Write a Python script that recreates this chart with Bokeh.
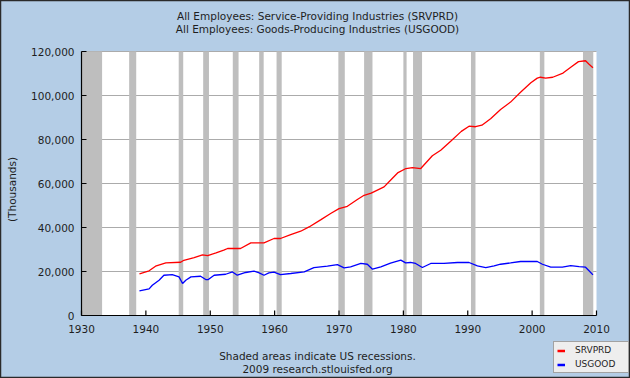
import math
from bokeh.plotting import figure
from bokeh.models import Label, Legend, LegendItem, Range1d
from bokeh.core.properties import value
from bokeh.embed import file_html
from bokeh.resources import INLINE

# ---- data ----
title_lines = ["All Employees: Service-Providing Industries (SRVPRD)",
               "All Employees: Goods-Producing Industries (USGOOD)"]
footer_lines = ["Shaded areas indicate US recessions.",
                "2009 research.stlouisfed.org"]
y_label = "(Thousands)"
series_names = ["SRVPRD", "USGOOD"]

rec_start = [1929.6, 1937.4, 1945.1, 1948.9, 1953.5, 1957.6, 1960.3, 1969.9,
             1973.9, 1980.0, 1981.5, 1990.5, 2001.2, 2007.9]
rec_end = [1933.2, 1938.5, 1945.8, 1949.8, 1954.4, 1958.3, 1961.1, 1970.9,
           1975.2, 1980.5, 1982.9, 1991.2, 2001.9, 2009.5]

srv_years = [1939.0, 1940.5, 1941.5, 1943.1, 1945.4, 1945.9, 1947.5, 1948.8, 1949.6,
             1950.9, 1952.1, 1952.7, 1954.7, 1956.3, 1957.8, 1958.35, 1959.9, 1960.9,
             1962.5, 1964.05, 1965.35, 1967.2, 1968.7, 1970.0, 1971.3, 1972.85, 1973.9,
             1975.0, 1977.0, 1978.0, 1979.1, 1980.4, 1981.4, 1982.7, 1984.5, 1985.8,
             1987.35, 1989.0, 1990.2, 1991.2, 1992.2, 1993.55, 1995.1, 1996.65, 1998.2,
             1999.8, 2000.8, 2001.3, 2002.1, 2003.2, 2004.8, 2006.0, 2007.2, 2008.3,
             2008.8, 2009.45]
srv_values = [18900, 20300, 22400, 23900, 24200, 25100, 26350, 27550, 27250,
              28450, 29700, 30450, 30450, 33000, 33050, 33000, 35000, 35000,
              36800, 38300, 40250, 43600, 46350, 48600, 49650, 52700, 54650,
              55600, 58450, 61500, 64800, 66800, 67250, 66800, 72600, 75100,
              79200, 83700, 86050, 85800, 86500, 89450, 93650, 97000, 101500,
              105800, 107900, 108300, 107850, 108300, 110200, 112850, 115400, 115800,
              114350, 112600]

good_years = [1939.0, 1940.5, 1941.0, 1942.05, 1942.8, 1944.1, 1945.15, 1945.7, 1946.2,
              1947.0, 1948.5, 1949.3, 1949.7, 1950.6, 1952.4, 1953.45, 1954.2, 1955.5,
              1956.8, 1957.6, 1958.35, 1959.1, 1959.9, 1960.9, 1962.5, 1964.6, 1966.1,
              1968.2, 1969.75, 1970.8, 1971.8, 1973.4, 1974.4, 1975.2, 1976.5, 1978.0,
              1979.6, 1980.35, 1981.1, 1981.9, 1982.95, 1984.25, 1986.3, 1988.4, 1990.2,
              1991.5, 1992.8, 1994.1, 1995.1, 1996.65, 1998.2, 2000.8, 2001.6, 2002.9,
              2004.7, 2006.0, 2007.3, 2008.3, 2008.8, 2009.45]
good_values = [11180, 12100, 13750, 16050, 18300, 18600, 17550, 14550, 16050,
               17550, 17850, 16350, 16350, 18300, 18750, 19800, 18300, 19550,
               20150, 19350, 18300, 19350, 19700, 18600, 19100, 19800, 21800,
               22400, 23150, 21650, 22100, 23650, 23300, 21050, 22100, 23800,
               25150, 23900, 24100, 23650, 21800, 23650, 23650, 24100, 24100,
               22550, 21800, 22550, 23300, 23900, 24550, 24550, 23300, 21950,
               21950, 22700, 22250, 21950, 20450, 18450]

x_ticks = [1930, 1940, 1950, 1960, 1970, 1980, 1990, 2000, 2010]
y_ticks = [0, 20000, 40000, 60000, 80000, 100000, 120000]

# ---- styling / layout (picture pixels) ----
BG = "#B4CDE6"
TXT = "#1E1E1E"
FONT = "DejaVu Sans"
FS = "10.5px"

W, H = 630, 378
PX0, PX1 = 81, 596              # plot area left/right
PY0, PY1 = 51, 315              # plot area top/bottom

xmin, xmax = x_ticks[0], x_ticks[-1]
ymin, ymax = y_ticks[0], y_ticks[-1]
xs = (xmax - xmin) / (PX1 - PX0)   # data units per pixel
ys = (ymax - ymin) / (PY1 - PY0)

p = figure(width=W, height=H, output_backend="svg", toolbar_location=None,
           x_axis_type=None, y_axis_type=None, min_border=0,
           x_range=Range1d(xmin - PX0 * xs, xmax + (W - PX1) * xs),
           y_range=Range1d(ymin - (H - PY1) * ys, ymax + PY0 * ys))
p.background_fill_color = BG
p.border_fill_color = BG
p.outline_line_color = "#2A2A2A"
p.outline_line_width = 1.5

# white plot area
p.quad(left=[xmin], right=[xmax], bottom=[ymin], top=[ymax],
       fill_color="white", line_color=None)

# horizontal grid lines
gy = y_ticks[1:]
p.segment(x0=[xmin] * len(gy), x1=[xmax] * len(gy), y0=gy, y1=gy,
          line_color="#ABABAB", line_width=1)

# recession shading (drawn above the grid, clipped to the x range)
p.quad(left=[max(s, xmin) for s in rec_start], right=[min(e, xmax) for e in rec_end],
       bottom=ymin, top=ymax, fill_color="#BEBEBE", line_color=None)

# series
p.line(srv_years, srv_values, line_color="#FF0000", line_width=1.3)
p.line(good_years, good_values, line_color="#0000FF", line_width=1.3)

# axis lines and inward ticks
p.segment(x0=[xmin, xmin], x1=[xmin, xmax], y0=[ymin, ymin], y1=[ymax, ymin],
          line_color="black", line_width=1.2)
p.segment(x0=[xmin] * len(y_ticks), x1=[xmin + 5 * xs] * len(y_ticks), y0=y_ticks, y1=y_ticks,
          line_color="black", line_width=1.2)
p.segment(x0=x_ticks, x1=x_ticks, y0=[ymin] * len(x_ticks), y1=[ymin + 5 * ys] * len(x_ticks),
          line_color="black", line_width=1.2)

# tick labels
p.text(x=x_ticks, y=[ymin] * len(x_ticks), text=[str(t) for t in x_ticks],
       y_offset=13, text_align="center", text_baseline="middle",
       text_font=value(FONT), text_font_size=value(FS), text_color=TXT)
p.text(x=[xmin] * len(y_ticks), y=y_ticks, text=[f"{t:,}" for t in y_ticks],
       x_offset=-7, text_align="right", text_baseline="middle",
       text_font=value(FONT), text_font_size=value(FS), text_color=TXT)


def add_text(text, ax, ay, size=FS, align="center", baseline="alphabetic", angle=0.0):
    """Text at picture pixel (ax, ay), via frame-relative screen units."""
    p.add_layout(Label(x=ax, y=H - ay, x_units="screen", y_units="screen",
                       text=text, text_font=FONT, text_font_size=size, text_color=TXT,
                       text_align=align, text_baseline=baseline, angle=angle))


add_text(title_lines[0], 317, 15)
add_text(title_lines[1], 317, 28.3)
add_text(footer_lines[0], 317, 355.5)
add_text(footer_lines[1], 317, 368)
add_text(y_label, 11, 189, baseline="middle", angle=math.pi / 2)

# legend with thick swatches (hidden copies of the series)
l1 = p.line(srv_years, srv_values, line_color="#FF0000", line_width=2.5, visible=False)
l2 = p.line(good_years, good_values, line_color="#0000FF", line_width=2.5, visible=False)
legend = Legend(items=[LegendItem(label=series_names[0], renderers=[l1]),
                       LegendItem(label=series_names[1], renderers=[l2])],
                location=(553, H - 373),
                orientation="vertical",
                background_fill_color="#EEEEEE", background_fill_alpha=1.0,
                border_line_color="#555555", border_line_width=1,
                label_text_font=FONT, label_text_font_size="9px", label_text_color=TXT,
                glyph_width=8, glyph_height=9, label_height=9, label_width=50,
                label_standoff=10, spacing=4, padding=3, margin=0,
                label_text_baseline="middle")
p.add_layout(legend, "center")

open("out.html", "w").write(file_html(p, INLINE))
